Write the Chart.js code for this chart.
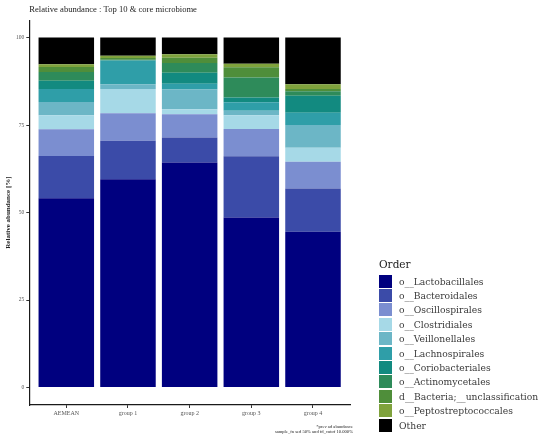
<!DOCTYPE html>
<html>
<head>
<meta charset="utf-8">
<script src="https://cdn.jsdelivr.net/npm/chart.js@4.4.1/dist/chart.umd.min.js"></script>
<style>
  body { margin: 0; background: #fff; }
  #wrap { position: relative; width: 550px; height: 442px; }
  #legend { position: absolute; left: 379px; top: 256px; font-family: 'DejaVu Serif', serif; color: #3a3a3a; }
  #legend .ttl { font-size: 10.5px; height: 18px; line-height: 16px; color: #222; }
  #legend .row { height: 14.4px; display: flex; align-items: center; font-size: 9.2px; }
  #legend .key { width: 13px; height: 13px; margin-right: 7px; }
  #note { position: absolute; right: 197px; top: 425px; font-family: 'Liberation Serif', serif; font-size: 4.6px; line-height: 4.6px; text-align: right; color: #222; }
</style>
</head>
<body>
<div id="wrap">
  <canvas id="abundance" width="550" height="442"></canvas>
  <div id="legend"></div>
  <div id="note">*prev ad abundance<br>sample_fn sed 50% and fd_cutof 10.000%</div>
</div>
<script>
// --- Data ---
const categories = ['AEMEAN', 'group 1', 'group 2', 'group 3', 'group 4'];
const orderNames = [
    'o__Lactobacillales', 'o__Bacteroidales', 'o__Oscillospirales', 'o__Clostridiales',
    'o__Veillonellales', 'o__Lachnospirales', 'o__Coriobacteriales', 'o__Actinomycetales',
    'd__Bacteria;__unclassification', 'o__Peptostreptococcales', 'Other'
];
const orderColors = [
    '#00007f', '#3b4ba8', '#7b8ed0', '#a6d9e7', '#6cb6c6', '#2f9ea8',
    '#128a80', '#2e8b5a', '#4f8e3a', '#7fa23c', '#000000'
];

// values per group (AEMEAN, group 1..4), %
const lactobacillales   = [54.1, 59.5, 64.3, 48.6, 44.5];
const bacteroidales     = [12.1, 11.0, 7.15, 17.5, 12.4];
const oscillospirales   = [7.6, 7.9, 6.65, 7.8, 7.6];
const clostridiales     = [4.0, 6.9, 1.45, 3.9, 4.0];
const veillonellales    = [3.8, 1.4, 5.6, 1.3, 6.5];
const lachnospirales    = [3.7, 6.7, 1.7, 2.4, 3.5];
const coriobacteriales  = [2.4, 0.1, 3.1, 1.4, 4.9];
const actinomycetales   = [2.5, 0.2, 2.8, 5.7, 1.3];
const bacteriaUnclass   = [1.4, 0.5, 1.5, 2.9, 0.6];
const peptostreptococc  = [0.8, 0.6, 1.0, 1.0, 1.4];
const other             = [7.6, 5.2, 4.75, 7.5, 13.3];

const seriesValues = [
    lactobacillales, bacteroidales, oscillospirales, clostridiales, veillonellales,
    lachnospirales, coriobacteriales, actinomycetales, bacteriaUnclass, peptostreptococc, other
];
const yTicks = [0, 25, 50, 75, 100];

// --- Chart ---
const serif = 'Liberation Serif';

const datasets = seriesValues.map((vals, k) => ({
    label: orderNames[k],
    data: vals.map((v, i) => ({ x: i, y: v })),
    backgroundColor: orderColors[k],
    borderWidth: 0,
    categoryPercentage: 1,
    barPercentage: 0.9
}));

new Chart(document.getElementById('abundance'), {
    type: 'bar',
    data: { datasets: datasets },
    options: {
        responsive: false,
        animation: false,
        devicePixelRatio: 1,
        layout: { padding: { left: 0, right: 200, top: 0, bottom: 0 } },
        plugins: {
            legend: { display: false },
            tooltip: { enabled: false },
            title: {
                display: true,
                text: 'Relative abundance : Top 10 & core microbiome',
                align: 'start',
                fullSize: false,
                color: '#222',
                font: { family: serif, size: 8.6, weight: 'normal' },
                padding: { top: 5, bottom: 4.8 }
            }
        },
        scales: {
            x: {
                type: 'linear',
                stacked: true,
                min: -0.6,
                max: 4.6,
                offset: false,
                afterBuildTicks: s => { s.ticks = categories.map((c, i) => ({ value: i })); },
                afterFit: s => { s.height = 37; },
                ticks: {
                    callback: v => categories[v],
                    autoSkip: false,
                    maxRotation: 0,
                    color: '#555',
                    padding: 2,
                    font: { family: serif, size: 6 }
                },
                grid: { display: true, offset: false, drawOnChartArea: false, tickLength: 3, color: '#333' },
                border: { display: true, color: '#1a1a1a', width: 1.2 }
            },
            y: {
                stacked: true,
                min: -5,
                max: 105,
                afterBuildTicks: s => { s.ticks = yTicks.map(v => ({ value: v })); },
                afterFit: s => { s.width = 29.3; },
                ticks: {
                    color: '#555',
                    padding: 2,
                    font: { family: serif, size: 5.5 }
                },
                grid: { display: true, drawOnChartArea: false, tickLength: 3, color: '#333' },
                border: { display: true, color: '#1a1a1a', width: 1.2 },
                title: {
                    display: true,
                    text: 'Relative abundance [%]',
                    color: '#222',
                    font: { family: serif, size: 7, weight: 'bold' },
                    padding: { top: 4, bottom: 0 }
                }
            }
        }
    }
});

// --- Legend ---
const legend = document.getElementById('legend');
let html = '<div class="ttl">Order</div>';
orderNames.forEach((name, k) => {
    html += `<div class="row"><span class="key" style="background:${orderColors[k]}"></span>${name}</div>`;
});
legend.innerHTML = html;
</script>
</body>
</html>
